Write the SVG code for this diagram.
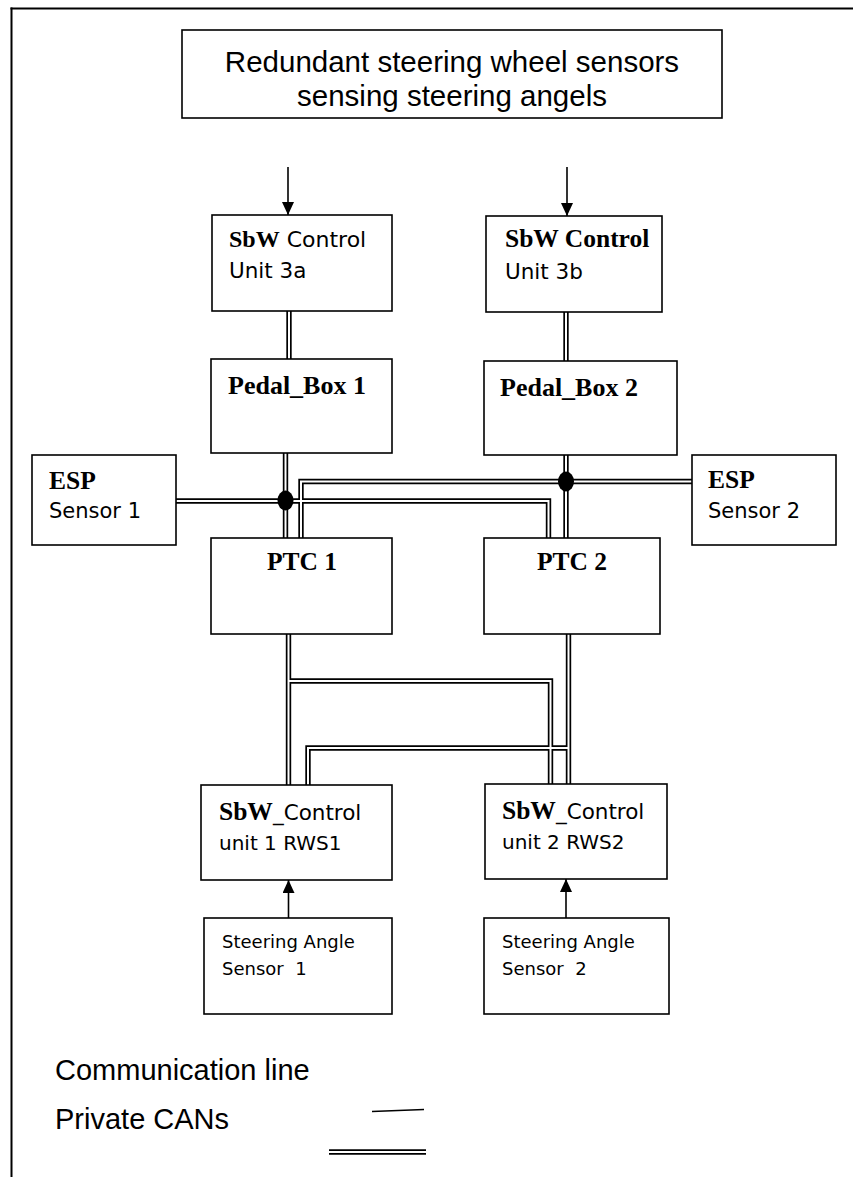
<svg xmlns="http://www.w3.org/2000/svg" width="853" height="1177" viewBox="0 0 853 1177">
  <style>
    .box { fill: #ffffff; stroke: #000000; stroke-width: 1.6; }
    .frame { stroke: #000000; stroke-width: 2; fill: none; }
    .sans { font-family: "DejaVu Sans", "Liberation Sans", sans-serif; fill: #000000; }
    .arial { font-family: "Liberation Sans", Arial, sans-serif; fill: #000000; }
    .bold { font-family: "Liberation Serif", "Times New Roman", serif; font-weight: bold; fill: #000000; }
    .can-outer { fill: none; stroke: #000000; stroke-width: 5.4; stroke-linejoin: miter; }
    .can-inner { fill: none; stroke: #ffffff; stroke-width: 2; stroke-linejoin: miter; }
    .comm { fill: none; stroke: #000000; stroke-width: 1.6; }
    .dot { fill: #000000; }
  </style>
  <defs>
    <marker id="tip" markerUnits="userSpaceOnUse" markerWidth="13" markerHeight="12" viewBox="0 0 13 12" refX="13" refY="6" orient="auto">
      <polygon points="0,0 13,6 0,12" fill="#000000"/>
    </marker>
  </defs>

  <!-- page frame: top rule and left rule -->
  <g id="frame">
    <line class="frame" x1="10.5" y1="8.5" x2="853" y2="8.5"/>
    <line class="frame" x1="11.5" y1="7.5" x2="11.5" y2="1177"/>
  </g>

  <!-- connectors -->
  <g id="connectors">
    <!-- communication lines (single, with arrowheads) -->
    <line class="comm" x1="288" y1="167" x2="288" y2="215" marker-end="url(#tip)"/>
    <line class="comm" x1="567" y1="167" x2="567" y2="216" marker-end="url(#tip)"/>
    <line class="comm" x1="288.5" y1="918" x2="288.5" y2="880" marker-end="url(#tip)"/>
    <line class="comm" x1="566" y1="918" x2="566" y2="879" marker-end="url(#tip)"/>

    <!-- private CANs: black outline pass -->
    <g class="can-outer">
      <path d="M289 311 V359"/>
      <path d="M566 312 V361"/>
      <path d="M285.5 453 V538"/>
      <path d="M566 455 V538"/>
      <path d="M176 501 H548.5 V538"/>
      <path d="M301 538 V481.5 H692"/>
      <path d="M288.5 634 V785"/>
      <path d="M288.5 681 H550.5 V784"/>
      <path d="M568.5 634 V784"/>
      <path d="M568.5 748 H308 V785"/>
    </g>
    <!-- private CANs: white gap pass -->
    <g class="can-inner">
      <path d="M289 311 V359"/>
      <path d="M566 312 V361"/>
      <path d="M285.5 453 V538"/>
      <path d="M566 455 V538"/>
      <path d="M176 501 H548.5 V538"/>
      <path d="M301 538 V481.5 H692"/>
      <path d="M288.5 634 V785"/>
      <path d="M288.5 681 H550.5 V784"/>
      <path d="M568.5 634 V784"/>
      <path d="M568.5 748 H308 V785"/>
    </g>
    <!-- bus junctions -->
    <ellipse class="dot" cx="285.5" cy="500.5" rx="8" ry="10"/>
    <ellipse class="dot" cx="566" cy="481.5" rx="8" ry="10"/>
  </g>

  <!-- nodes -->
  <g id="steering-wheel-sensors">
    <rect class="box" x="182" y="30" width="540" height="88"/>
    <text class="arial" x="452" y="72" font-size="29.5" text-anchor="middle">Redundant steering wheel sensors</text>
    <text class="arial" x="452" y="106" font-size="29.5" text-anchor="middle">sensing steering angels</text>
  </g>

  <g id="sbw-control-3a">
    <rect class="box" x="212" y="215" width="180" height="96"/>
    <text x="229" y="247"><tspan class="bold" font-size="24">SbW</tspan><tspan class="sans" font-size="22"> Control</tspan></text>
    <text class="sans" x="229" y="278" font-size="21.5">Unit 3a</text>
  </g>

  <g id="sbw-control-3b">
    <rect class="box" x="486" y="216" width="176" height="96"/>
    <text class="bold" x="505" y="247" font-size="25.5">SbW Control</text>
    <text class="sans" x="505" y="279" font-size="21.5">Unit 3b</text>
  </g>

  <g id="pedal-box-1">
    <rect class="box" x="211" y="359" width="181" height="94"/>
    <text class="bold" x="228" y="394" font-size="26">Pedal_Box 1</text>
  </g>

  <g id="pedal-box-2">
    <rect class="box" x="484" y="361" width="193" height="94"/>
    <text class="bold" x="500" y="396" font-size="26">Pedal_Box 2</text>
  </g>

  <g id="esp-sensor-1">
    <rect class="box" x="32" y="455" width="144" height="90"/>
    <text class="bold" x="49" y="489" font-size="25.5">ESP</text>
    <text class="sans" x="49" y="518" font-size="21">Sensor 1</text>
  </g>

  <g id="esp-sensor-2">
    <rect class="box" x="692" y="455" width="144" height="90"/>
    <text class="bold" x="708" y="488" font-size="25.5">ESP</text>
    <text class="sans" x="708" y="518" font-size="21">Sensor 2</text>
  </g>

  <g id="ptc-1">
    <rect class="box" x="211" y="538" width="181" height="96"/>
    <text class="bold" x="302" y="570" font-size="25.5" text-anchor="middle">PTC 1</text>
  </g>

  <g id="ptc-2">
    <rect class="box" x="484" y="538" width="176" height="96"/>
    <text class="bold" x="572" y="570" font-size="25.5" text-anchor="middle">PTC 2</text>
  </g>

  <g id="sbw-control-rws1">
    <rect class="box" x="201" y="785" width="191" height="95"/>
    <text x="219" y="820"><tspan class="bold" font-size="25.5">SbW</tspan><tspan class="sans" font-size="21.5">_Control</tspan></text>
    <text class="sans" x="219" y="850" font-size="20">unit 1 RWS1</text>
  </g>

  <g id="sbw-control-rws2">
    <rect class="box" x="485" y="784" width="182" height="95"/>
    <text x="502" y="819"><tspan class="bold" font-size="25.5">SbW</tspan><tspan class="sans" font-size="21.5">_Control</tspan></text>
    <text class="sans" x="502" y="849" font-size="20">unit 2 RWS2</text>
  </g>

  <g id="steering-angle-sensor-1">
    <rect class="box" x="204" y="918" width="188" height="96"/>
    <text class="sans" x="222" y="948" font-size="18">Steering Angle</text>
    <text class="sans" x="222" y="975" font-size="18" xml:space="preserve">Sensor  1</text>
  </g>

  <g id="steering-angle-sensor-2">
    <rect class="box" x="484" y="918" width="185" height="96"/>
    <text class="sans" x="502" y="948" font-size="18">Steering Angle</text>
    <text class="sans" x="502" y="975" font-size="18" xml:space="preserve">Sensor  2</text>
  </g>

  <!-- legend -->
  <g id="legend">
    <text class="arial" x="55" y="1080" font-size="29">Communication line</text>
    <text class="arial" x="55" y="1129" font-size="29">Private CANs</text>
    <line class="comm" x1="372" y1="1111.5" x2="424" y2="1109.5"/>
    <line class="can-outer" x1="329" y1="1152" x2="426" y2="1152"/>
    <line class="can-inner" x1="329" y1="1152" x2="426" y2="1152"/>
  </g>
</svg>
